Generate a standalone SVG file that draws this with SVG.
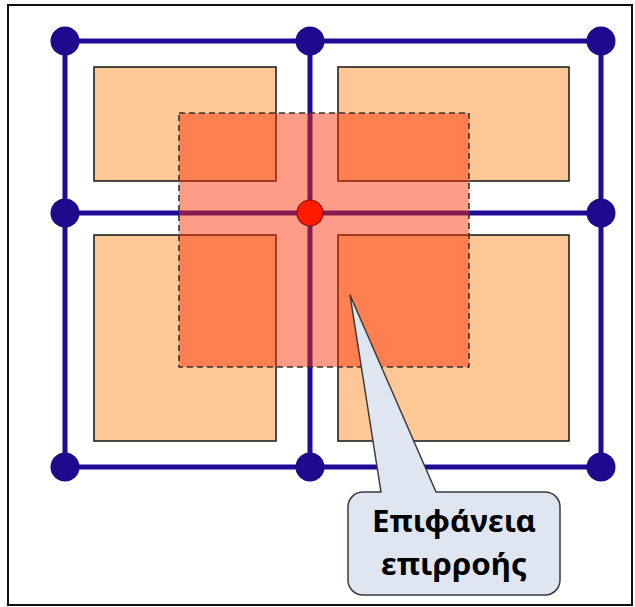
<svg xmlns="http://www.w3.org/2000/svg" width="635" height="607" viewBox="0 0 635 607">
  <style>
    .cell { fill: #fdc896; stroke: #222; stroke-width: 1.6; }
    .edge { stroke: #1e0a96; stroke-width: 5; fill: none; stroke-linecap: round; }
    .node { fill: #1e0a8c; }
    .area { fill: #ff2c00; fill-opacity: 0.47; stroke: #333; stroke-width: 1.6; stroke-dasharray: 6 4; }
    .label { font-family: "Noto Sans", "Open Sans", "Liberation Sans", sans-serif; font-weight: bold; font-size: 31px; fill: #000; text-anchor: middle; }
  </style>
  <rect x="0" y="0" width="635" height="607" fill="#fff"/>
  <rect id="frame" x="8" y="5" width="624" height="600" fill="none" stroke="#111" stroke-width="2"/>

  <g id="cells">
    <rect id="cell-tl" class="cell" x="94" y="67" width="182" height="114"/>
    <rect id="cell-tr" class="cell" x="338" y="67" width="231" height="114"/>
    <rect id="cell-bl" class="cell" x="94" y="235" width="182" height="206"/>
    <rect id="cell-br" class="cell" x="338" y="235" width="231" height="206"/>
  </g>

  <g id="connectors">
    <line class="edge" x1="65" y1="41" x2="601" y2="41"/>
    <line class="edge" x1="65" y1="213" x2="601" y2="213"/>
    <line class="edge" x1="65" y1="467" x2="601" y2="467"/>
    <line class="edge" x1="65" y1="41" x2="65" y2="467"/>
    <line class="edge" x1="310" y1="41" x2="310" y2="467"/>
    <line class="edge" x1="601" y1="41" x2="601" y2="467"/>
  </g>

  <g id="nodes">
    <g id="n-tl"><circle class="node" cx="65" cy="41" r="14.5"/></g>
    <g id="n-tm"><circle class="node" cx="310" cy="41" r="14.5"/></g>
    <g id="n-tr"><circle class="node" cx="601" cy="41" r="14.5"/></g>
    <g id="n-ml"><circle class="node" cx="65" cy="213" r="14.5"/></g>
    <g id="n-mr"><circle class="node" cx="601" cy="213" r="14.5"/></g>
    <g id="n-bl"><circle class="node" cx="65" cy="467" r="14.5"/></g>
    <g id="n-bm"><circle class="node" cx="310" cy="467" r="14.5"/></g>
    <g id="n-br"><circle class="node" cx="601" cy="467" r="14.5"/></g>
  </g>

  <g id="influence-area">
    <rect class="area" x="179" y="113" width="290" height="254"/>
  </g>

  <g id="n-center">
    <circle cx="310" cy="213" r="13" fill="#ff1a00" stroke="#8a1414" stroke-width="1.2"/>
  </g>

  <g id="callout">
    <path d="M 363 492 L 381 492 L 350 295 L 436 492 L 545 492 A 15 15 0 0 1 560 507 L 560 580 A 15 15 0 0 1 545 595 L 363 595 A 15 15 0 0 1 348 580 L 348 507 A 15 15 0 0 1 363 492 Z" fill="#dfe6f1" stroke="#3a3a3a" stroke-width="1.5" stroke-linejoin="round"/>
    <text class="label" x="454" y="532" textLength="164" lengthAdjust="spacingAndGlyphs">Επιφάνεια</text>
    <text class="label" x="454" y="575" textLength="146" lengthAdjust="spacingAndGlyphs">επιρροής</text>
  </g>
</svg>
